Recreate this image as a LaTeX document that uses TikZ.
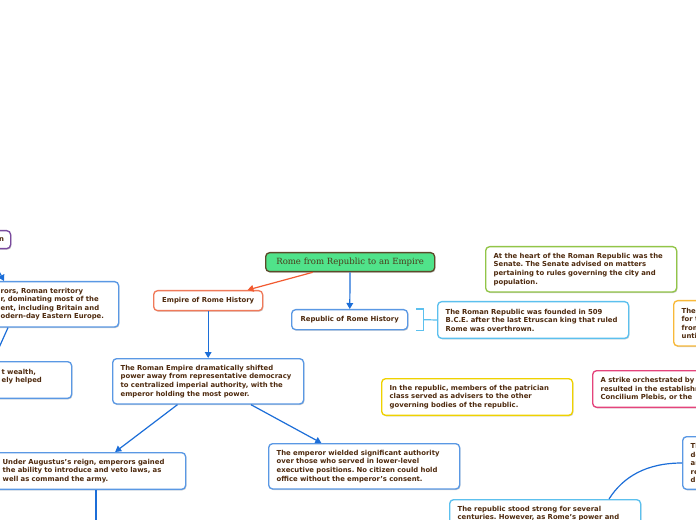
\documentclass[tikz,border=0pt]{standalone}
\usepackage{fontspec}
\setmainfont{DejaVu Sans}
\newfontfamily\rootfont{DejaVu Serif}
\usepackage{tikz}
\usetikzlibrary{arrows.meta,calc,positioning,shadows}
\definecolor{Ink}{HTML}{4E2A0E}
\definecolor{RootInk}{HTML}{4B3B1A}
\definecolor{Mint}{HTML}{50E38A}
\definecolor{Bark}{HTML}{5C4A2A}
\definecolor{Coral}{HTML}{F07A5A}
\definecolor{Flame}{HTML}{F25A30}
\definecolor{Blue}{HTML}{5A98E4}
\definecolor{Deep}{HTML}{1C6ED8}
\definecolor{Sky}{HTML}{5CC0EE}
\definecolor{Lime}{HTML}{92C548}
\definecolor{Amber}{HTML}{F8B93A}
\definecolor{Gold}{HTML}{EFD200}
\definecolor{Rose}{HTML}{E4447C}
\definecolor{Plum}{HTML}{7A4A9E}
\newcommand\notefont{\fontsize{5.15}{6.4}\selectfont\bfseries\frenchspacing}

\begin{document}
\begin{tikzpicture}[x=0.75pt,y=-0.75pt,>={Triangle[length=4.5pt,width=5pt]},
    box/.style={draw,rounded corners=3pt,line width=1pt,fill=white,text=Ink,font=\notefont,anchor=north west,drop shadow={shadow xshift=0.6pt,shadow yshift=-0.8pt,opacity=0.2,fill=black}},
    note/.style={box,align=left,text width=131.25pt,inner xsep=6pt,inner ysep=4.6pt},
    tall3/.style={minimum height=27.5pt},
    tall4/.style={minimum height=34pt},
    tall5/.style={minimum height=39.5pt},
    link/.style={draw=Deep,line width=0.9pt}]
    \useasboundingbox (0,0) rectangle (696,520);
    \fill[white] (0,0) rectangle (696,520);
    \clip (0,0) rectangle (696,520);
    % main branch
    \node[box,fill=Mint,draw=Bark,text=RootInk,font=\rootfont\fontsize{6.4}{7}\selectfont,minimum width=126.75pt,minimum height=14.25pt,inner sep=0pt] (root) at (265,252) {Rome from Republic to an Empire};
    \node[box,draw=Coral,minimum width=81.75pt,minimum height=15pt,inner sep=0pt] (empire) at (153,290) {Empire of Rome History};
    \node[box,draw=Blue,minimum width=87pt,minimum height=15pt,inner sep=0pt] (republic) at (291,309) {Republic of Rome History};
    % republic side
    \node[note,draw=Sky,tall3] (founded) at (437,301) {The Roman Republic was founded in 509\\B.C.E. after the last Etruscan king that ruled\\Rome was overthrown.};
    \node[note,draw=Lime,tall4] (senate) at (485,246) {At the heart of the Roman Republic was the\\Senate. The Senate advised on matters\\pertaining to rules governing the city and\\population.};
    \node[note,draw=Amber,tall4] (untilR) at (673,300) {The\\for the\\from\\until};
    \node[note,draw=Gold,tall3] (patrician) at (381,378) {In the republic, members of the patrician\\class served as advisers to the other\\governing bodies of the republic.};
    \node[note,draw=Rose,tall3] (strike) at (592,370) {A strike orchestrated by\\resulted in the establishment\\Concilium Plebis, or the};
    \node[note,draw=Blue,tall5] (decline) at (682,436) {Th\\de\\an\\re\\di};
    \node[note,draw=Sky] (stood) at (449,499) {The republic stood strong for several\\centuries. However, as Rome’s power and};
    % empire side
    \node[note,draw=Blue,tall4] (shifted) at (112,358) {The Roman Empire dramatically shifted\\power away from representative democracy\\to centralized imperial authority, with the\\emperor holding the most power.};
    \node[note,draw=Blue,tall4] (wielded) at (268,443) {The emperor wielded significant authority\\over those who served in lower-level\\executive positions. No citizen could hold\\office without the emperor’s consent.};
    \node[note,draw=Blue,tall3] (augustus) at (-6,452) {Under Augustus’s reign, emperors gained\\the ability to introduce and veto laws, as\\well as command the army.};
    \node[note,draw=Blue,text width=82.5pt,tall4] (territory) at (-8,281) {rors, Roman territory\\r, dominating most of the\\ent, including Britain and\\odern-day Eastern Europe.};
    \node[note,draw=Blue,text width=46.5pt,tall3] (wealth) at (-7,361) {t wealth,\\ely helped\\~};
    \node[box,draw=Plum,minimum width=13.5pt,minimum height=13.5pt,inner sep=0pt] (leftTag) at (-8,230) {n};
    \coordinate (offTop) at (-6,262);
    \coordinate (belowAug) at (96,545);
    % connectors
    \draw[link,draw=Flame,->] (root)--(empire);
    \foreach \a/\b in {root/republic,empire/shifted,shifted/augustus,shifted/wielded}{\draw[link,->] (\a)--(\b);}
    \draw[link,->] (offTop)--($(territory.north west)+(12,0)$);
    \draw[link,->] ($(territory.south west)+(16,0)$)--(wealth.north west);
    \draw[link,->] (augustus.south -| belowAug)--(belowAug);
    \draw[link,draw=Sky] ($(republic.north east)+(8,0)$) -| ($(republic.east)+(15,0)$) coordinate (brace) |- ($(republic.south east)+(8,0)$);
    \draw[link,draw=Sky] (brace)--(founded.west);
    \coordinate (curveA) at ($(stood.north west)+(160,0)$);
    \draw[link] (curveA) .. controls ($(curveA)+(14,-22)$) and ($(decline.west)+(-36,0)$) .. (decline.west);
\end{tikzpicture}
\end{document}
